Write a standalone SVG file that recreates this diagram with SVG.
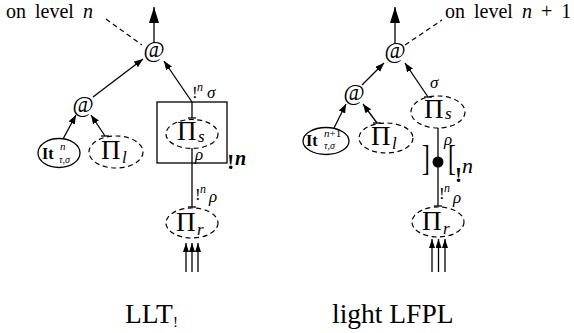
<svg xmlns="http://www.w3.org/2000/svg" width="574" height="333" viewBox="0 0 574 333">
<style>
text{font-family:"Liberation Serif","Times New Roman",serif;fill:#000}
.it{font-style:italic}
.bf{font-weight:bold}
.at{font-size:23px;text-anchor:middle}
.pi{font-size:27px}
.sb{font-size:17px;font-style:italic}
.lbl{font-size:17px}
.sup{font-size:12px;font-style:italic}
.ln{stroke:#000;stroke-width:1.3;fill:none}
.dash{stroke:#000;stroke-width:1.2;fill:none;stroke-dasharray:5 3.5}
.solid{stroke:#000;stroke-width:1.3;fill:none}
.cap{font-size:27.5px}
.lev{font-size:20px;word-spacing:4px}
</style>
<defs>
<marker id="ah" markerUnits="userSpaceOnUse" markerWidth="10" markerHeight="8" refX="9" refY="3.5" orient="auto"><path d="M0,0 L9,3.5 L0,7 z" fill="#000"/></marker>
<marker id="ahb" markerUnits="userSpaceOnUse" markerWidth="17" markerHeight="11" refX="16" refY="5" orient="auto"><path d="M0,0 L16,5 L0,10 z" fill="#000"/></marker>
<marker id="ahs" markerUnits="userSpaceOnUse" markerWidth="10" markerHeight="7" refX="9" refY="3" orient="auto"><path d="M0,0 L9,3 L0,6 z" fill="#000"/></marker>
</defs>

<g id="connectors">
  <!-- left -->
  <line class="ln" x1="154" y1="43" x2="154" y2="7" marker-end="url(#ahb)"/>
  <line class="dash" x1="106" y1="19" x2="142" y2="45"/>
  <line class="ln" x1="93" y1="97" x2="143" y2="59" marker-end="url(#ah)"/>
  <line class="ln" x1="192" y1="102" x2="164" y2="61" marker-end="url(#ah)"/>
  <line class="ln" x1="192" y1="102" x2="192" y2="118"/>
  <line class="ln" x1="188" y1="118" x2="196" y2="118"/>
  <line class="ln" x1="63" y1="139" x2="76" y2="115" marker-end="url(#ah)"/>
  <line class="ln" x1="105" y1="136" x2="91" y2="115" marker-end="url(#ah)"/>
  <line class="ln" x1="101" y1="136" x2="109" y2="136"/>
  <line class="ln" x1="192" y1="148" x2="192" y2="207"/>
  <line class="ln" x1="188" y1="207" x2="196" y2="207"/>
  <line class="ln" x1="186" y1="272" x2="186" y2="243" marker-end="url(#ahs)"/>
  <line class="ln" x1="192" y1="272" x2="192" y2="243" marker-end="url(#ahs)"/>
  <line class="ln" x1="198" y1="272" x2="198" y2="243" marker-end="url(#ahs)"/>
  <!-- right -->
  <line class="ln" x1="395" y1="43" x2="395" y2="7" marker-end="url(#ahb)"/>
  <line class="dash" x1="405" y1="45" x2="442" y2="20"/>
  <line class="ln" x1="362" y1="85" x2="384" y2="63" marker-end="url(#ah)"/>
  <line class="ln" x1="428" y1="97" x2="405" y2="63" marker-end="url(#ah)"/>
  <line class="ln" x1="424" y1="97" x2="432" y2="97"/>
  <line class="ln" x1="334" y1="128" x2="346" y2="104" marker-end="url(#ah)"/>
  <line class="ln" x1="377" y1="123" x2="363" y2="104" marker-end="url(#ah)"/>
  <line class="ln" x1="373" y1="123" x2="381" y2="123"/>
  <line class="ln" x1="438" y1="128" x2="438" y2="206"/>
  <line class="ln" x1="434" y1="206" x2="442" y2="206"/>
  <circle cx="438" cy="162" r="5.5" fill="#000"/>
  <line class="ln" x1="432" y1="272" x2="432" y2="239" marker-end="url(#ahs)"/>
  <line class="ln" x1="438.5" y1="272" x2="438.5" y2="239" marker-end="url(#ahs)"/>
  <line class="ln" x1="445" y1="272" x2="445" y2="239" marker-end="url(#ahs)"/>
</g>

<g id="labels">
  <text class="lev" x="6" y="18">on level <tspan class="it">n</tspan></text>
  <text class="lev" x="445" y="18">on level <tspan class="it">n</tspan> + 1</text>
  <!-- left edge labels -->
  <text class="lbl" x="192" y="98">!</text>
  <text class="sup" x="197" y="91">n</text>
  <text class="sb" x="207" y="98">σ</text>
  <text class="sb" x="195" y="160">ρ</text>
  <text class="bf" style="font-size:22px" x="227" y="169">!</text>
  <text class="it bf" style="font-size:20px" x="235" y="165">n</text>
  <text class="lbl" x="195" y="200">!</text>
  <text class="sup" x="200" y="193">n</text>
  <text class="sb" x="209" y="202">ρ</text>
  <!-- right edge labels -->
  <text class="sb" x="430" y="88">σ</text>
  <text class="sb" x="444" y="145">ρ</text>
  <text style="font-size:36px" transform="translate(422,170) scale(0.65,1)">]</text>
  <text style="font-size:36px" transform="translate(448,170) scale(0.65,1)">[</text>
  <text class="bf" style="font-size:21px" x="455" y="182">!</text>
  <text class="it" style="font-size:22px" x="462" y="173">n</text>
  <text class="lbl" x="439" y="199">!</text>
  <text class="sup" x="444" y="192">n</text>
  <text class="sb" x="453" y="203">ρ</text>
</g>

<g id="L-top-at"><text class="at" x="154" y="57">@</text></g>
<g id="L-low-at"><text class="at" x="83" y="112">@</text></g>
<g id="L-box"><rect class="solid" x="157" y="102" width="70" height="61"/></g>
<g id="L-Pi-s">
  <ellipse class="dash" cx="192" cy="134" rx="26" ry="14.5"/>
  <text class="pi" x="177" y="140">Π</text><text class="sb" x="198" y="142">s</text>
</g>
<g id="L-It">
  <ellipse class="solid" cx="59" cy="153" rx="21" ry="14.5"/>
  <text class="bf" style="font-size:16px" x="42" y="159">It</text>
  <text class="sup" style="font-size:11px" x="60" y="150">n</text>
  <text class="sup" style="font-size:10px" x="59" y="163">τ,σ</text>
</g>
<g id="L-Pi-l">
  <ellipse class="dash" cx="116" cy="152" rx="27" ry="16"/>
  <text class="pi" x="101" y="159">Π</text><text class="sb" x="122" y="163">l</text>
</g>
<g id="L-Pi-r">
  <ellipse class="dash" cx="192" cy="223" rx="26" ry="15"/>
  <text class="pi" x="176" y="231">Π</text><text class="sb" x="197" y="235">r</text>
</g>

<g id="R-top-at"><text class="at" x="395" y="58">@</text></g>
<g id="R-low-at"><text class="at" x="354" y="100">@</text></g>
<g id="R-Pi-s">
  <ellipse class="dash" cx="438" cy="112" rx="27" ry="16"/>
  <text class="pi" x="424" y="118">Π</text><text class="sb" x="445" y="119">s</text>
</g>
<g id="R-It">
  <ellipse class="solid" cx="326" cy="141" rx="23" ry="13.5"/>
  <text class="bf" style="font-size:16px" x="306" y="146">It</text>
  <text class="sup" style="font-size:11px" x="324" y="137">n<tspan style="font-style:normal">+1</tspan></text>
  <text class="sup" style="font-size:10px" x="324" y="149">τ,σ</text>
</g>
<g id="R-Pi-l">
  <ellipse class="dash" cx="386" cy="138" rx="27" ry="15"/>
  <text class="pi" x="371" y="145">Π</text><text class="sb" x="392" y="149">l</text>
</g>
<g id="R-Pi-r">
  <ellipse class="dash" cx="438" cy="222" rx="26" ry="15"/>
  <text class="pi" x="422" y="230">Π</text><text class="sb" x="443" y="234">r</text>
</g>

<g id="captions">
  <text class="cap" x="125" y="323">LLT<tspan style="font-size:15px" dy="4">!</tspan></text>
  <text class="cap" x="332" y="323">light LFPL</text>
</g>
</svg>
